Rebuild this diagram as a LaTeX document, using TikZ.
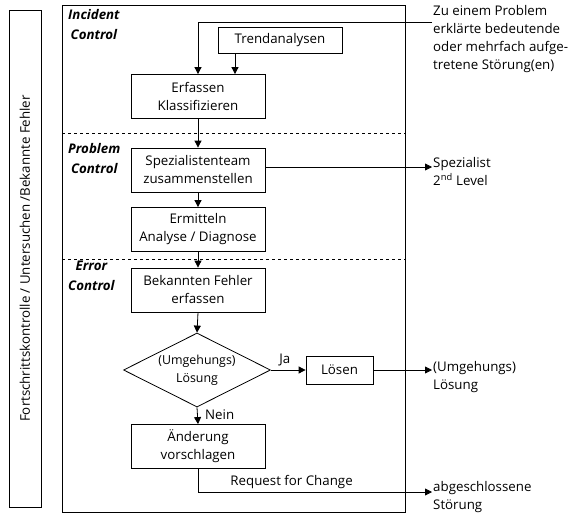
\documentclass[tikz,border=0pt]{standalone}
\usepackage{fontspec}
\setmainfont{Open Sans}
\usepackage{tikz}
\usetikzlibrary{shapes.geometric, arrows.meta, positioning, calc}

\begin{document}
\begin{tikzpicture}[
  x=1pt, y=-1pt,
  font=\fontsize{13.3}{18}\selectfont,
  stepbox/.style={draw, line width=0.8pt, align=center, minimum width=134pt, minimum height=44pt, inner sep=2pt},
  smallbox/.style={draw, line width=0.8pt, align=center, inner sep=2pt},
  decision/.style={draw, diamond, line width=0.8pt, align=center, minimum width=147pt, minimum height=74pt, inner sep=0pt, aspect=2, font=\fontsize{12.4}{18}\selectfont},
  arr/.style={-{Triangle[length=7pt, width=7pt]}, line width=0.8pt},
  phase/.style={font=\fontsize{13.3}{20}\selectfont\bfseries\itshape, align=center, anchor=north west, inner sep=0pt},
  outtext/.style={align=left, anchor=west, inner sep=0pt},
  sep/.style={dashed, line width=0.8pt}
]
\useasboundingbox (0,0) rectangle (575,514);

% Frames
\node[draw, line width=0.9pt, rotate=90, minimum width=497pt, minimum height=32pt, inner sep=0pt] (side) at (25,258.5) {Fortschrittskontrolle / Untersuchen /Bekannte Fehler};
\draw[line width=1pt] (62,5) rectangle (405,512);
\draw[sep] (62,133) -- (405,133);
\draw[sep] (62,259) -- (405,259);

% Phases
\node[phase] (inc) at (68,9) {Incident\\Control};
\node[phase] (prob) at (68,143) {Problem\\Control};
\node[phase] (err) at (68,261) {Error\\Control};

% Steps
\node[smallbox, minimum width=124pt, minimum height=26pt] (trend) at (280,40) {Trendanalysen};
\node[stepbox] (erf) at (198,96.5) {Erfassen\\Klassifizieren};
\node[stepbox] (spez) at (198,170) {Spezialistenteam\\zusammenstellen};
\node[stepbox] (ermit) at (198,229.5) {Ermitteln\\Analyse / Diagnose};
\node[stepbox] (bek) at (198,290) {Bekannten Fehler\\erfassen};
\node[decision] (umg) at (197,370) {(Umgehungs)\\Lösung};
\node[smallbox, minimum width=67pt, minimum height=28pt] (loes) at (339.5,370) {Lösen};
\node[stepbox] (aend) at (198,446.5) {Änderung\\vorschlagen};

% Outside
\node[align=left, anchor=north west, inner sep=0pt] (zu) at (433,5) {Zu einem Problem\\erklärte bedeutende\\oder mehrfach aufge-\\tretene Störung(en)};
\node[outtext] (spezout) at (433,172) {Spezialist\\2\textsuperscript{nd} Level};
\node[outtext] (loesout) at (433,377) {(Umgehungs)\\Lösung};
\node[outtext] (abg) at (433,497) {abgeschlossene\\Störung};
\coordinate (zuin) at (432,22);
\coordinate (spezend) at (432,167);
\coordinate (loesend) at (432,370);
\coordinate (rfcend) at (432,492);

% Flow
\draw[arr] (zuin) -| (erf.north);
\draw[arr] ([xshift=-45pt]trend.south) -- ([xshift=37pt]erf.north);
\draw[arr] (erf) -- (spez);
\draw[arr] ([yshift=3pt]spez.east) -- (spezend);
\draw[arr] (spez) -- (ermit);
\draw[arr] (ermit) -- (bek);
\draw[arr] (bek.south) -- (umg.north);
\draw[arr] (umg.east) -- node[above, pos=0.4] {Ja} (loes.west);
\draw[arr] (loes.east) -- (loesend);
\draw[arr] (umg.south) -- node[right, xshift=4pt, pos=0.45] {Nein} (aend.north);
\draw[arr] (aend.south) |- node[above, pos=0.7] {Request for Change} (rfcend);

\end{tikzpicture}
\end{document}
